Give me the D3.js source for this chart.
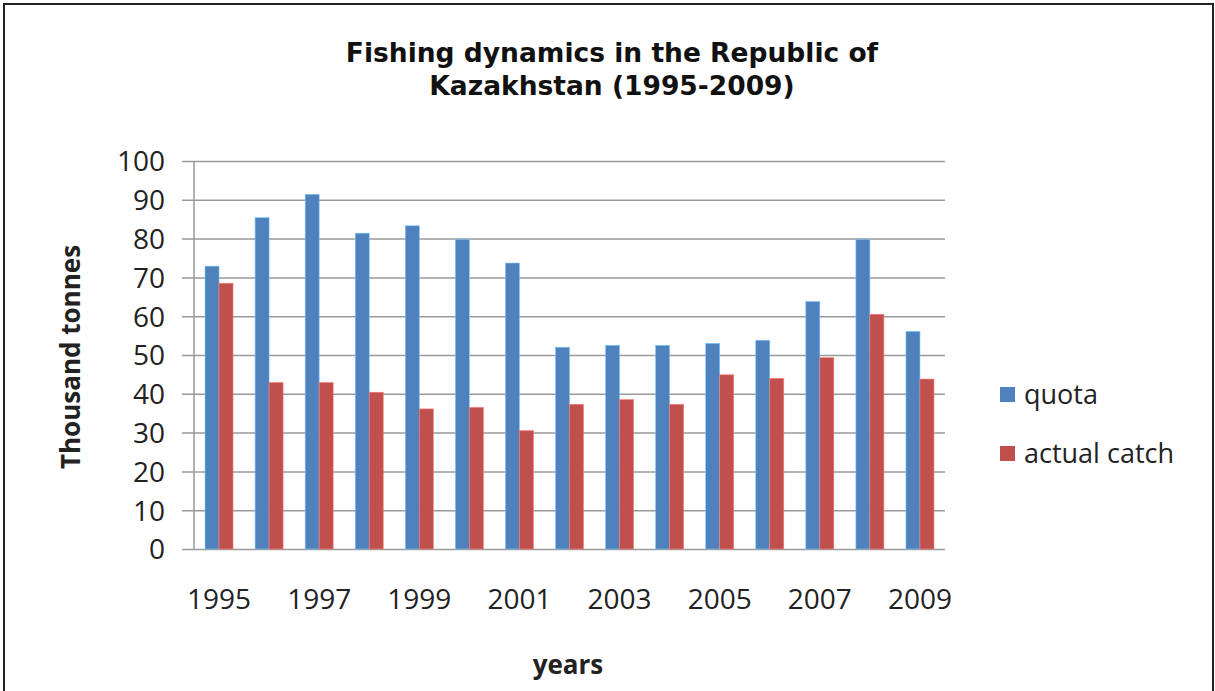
<!DOCTYPE html>
<html>
<head>
<meta charset="utf-8">
<script src="https://cdn.jsdelivr.net/npm/d3@7"></script>
<style>
  body { margin: 0; background: #fff; }
  svg { display: block; }
</style>
</head>
<body>
<div id="chart"></div>
<script>
// data (thousand tonnes)
const years = ['1995', '1996', '1997', '1998', '1999', '2000', '2001', '2002',
  '2003', '2004', '2005', '2006', '2007', '2008', '2009']
const quota = [72.9, 85.4, 91.4, 81.4, 83.3, 79.8, 73.7, 52.0, 52.5, 52.5, 53.0, 53.8, 63.8, 79.8, 56.1]
const actualCatch = [68.5, 42.9, 42.9, 40.4, 36.1, 36.5, 30.5, 37.3, 38.5, 37.3, 44.9, 44.0, 49.3, 60.5, 43.8]
const seriesNames = ['quota', 'actual catch']
const seriesColors = ['#4F81BD', '#C0504D']
const yTicks = [0, 10, 20, 30, 40, 50, 60, 70, 80, 90, 100]

const w = 1215, h = 691
const margin = { left: 194, right: 270, top: 161, bottom: 142 }
const plotW = w - margin.left - margin.right
const plotH = h - margin.top - margin.bottom

const svg = d3.select('#chart').append('svg')
  .attr('width', w)
  .attr('height', h)

// outer frame
svg.append('rect')
  .attr('x', 4).attr('y', 4)
  .attr('width', w - 6).attr('height', h)
  .attr('fill', 'none')
  .attr('stroke', '#222')
  .attr('stroke-width', 2)

// title
svg.append('text')
  .attr('x', 612).attr('y', 0)
  .attr('text-anchor', 'middle')
  .style('font-family', 'DejaVu Sans')
  .style('font-weight', 'bold')
  .style('font-size', '26.5px')
  .attr('fill', '#111')
  .selectAll('tspan')
  .data(['Fishing dynamics in the Republic of', 'Kazakhstan (1995-2009)'])
  .enter().append('tspan')
  .attr('x', 612)
  .attr('y', (d, i) => 62 + i * 33)
  .text(d => d)

const g = svg.append('g')
  .attr('transform', 'translate(' + margin.left + ',' + margin.top + ')')

const x = d3.scaleBand()
  .domain(years)
  .range([0, plotW])

const xInner = d3.scaleBand()
  .domain(seriesNames)
  .range([0, 28])

const y = d3.scaleLinear()
  .domain([0, 100])
  .range([plotH, 0])

// gridlines + y axis
const yAxis = d3.axisLeft(y)
  .tickValues(yTicks)
  .tickSize(-plotW)
  .tickPadding(29)

const yg = g.append('g').call(yAxis)
yg.select('.domain').remove()
yg.selectAll('.tick line')
  .attr('x1', -12)
  .attr('stroke', '#9a9a9a')
  .attr('stroke-width', 1.5)
yg.selectAll('.tick text')
  .style('font-family', 'Open Sans')
  .style('font-size', '28px')
  .attr('fill', '#222')
  .attr('dy', '0.35em')

g.append('line')
  .attr('x1', 0).attr('x2', 0)
  .attr('y1', 0).attr('y2', plotH)
  .attr('stroke', '#9a9a9a')
  .attr('stroke-width', 1.5)

// bars
const rows = years.map((yr, i) => ({ year: yr, values: [quota[i], actualCatch[i]] }))

const groups = g.selectAll('.yr')
  .data(rows)
  .enter().append('g')
  .attr('transform', d => 'translate(' + (x(d.year) + x.bandwidth() / 2 - 14) + ',0)')

groups.selectAll('rect')
  .data(d => d.values.map((v, i) => ({ name: seriesNames[i], value: v, color: seriesColors[i] })))
  .enter().append('rect')
  .attr('x', d => xInner(d.name))
  .attr('y', d => y(d.value))
  .attr('width', xInner.bandwidth())
  .attr('height', d => plotH - y(d.value))
  .attr('fill', d => d.color)
  .attr('stroke', d => d3.color(d.color).brighter(1.2))
  .attr('stroke-width', 0.6)

// x axis labels (every other year)
const xAxis = d3.axisBottom(x)
  .tickValues(years.filter((d, i) => i % 2 === 0))
  .tickSize(0)
  .tickPadding(40)
const xg = g.append('g')
  .attr('transform', 'translate(0,' + plotH + ')')
  .call(xAxis)
xg.select('.domain').remove()
xg.selectAll('.tick text')
  .style('font-family', 'Open Sans')
  .style('font-size', '28px')
  .attr('fill', '#222')

// axis titles
svg.append('text')
  .attr('transform', 'translate(80,357) rotate(-90)')
  .attr('text-anchor', 'middle')
  .style('font-family', 'Open Sans')
  .style('font-weight', 'bold')
  .style('font-size', '26px')
  .attr('fill', '#222')
  .text('Thousand tonnes')

svg.append('text')
  .attr('x', 568).attr('y', 674)
  .attr('text-anchor', 'middle')
  .style('font-family', 'Open Sans')
  .style('font-weight', 'bold')
  .style('font-size', '26px')
  .attr('fill', '#222')
  .text('years')

// legend
const legend = svg.append('g')
  .attr('transform', 'translate(1000,387)')
const li = legend.selectAll('g')
  .data(seriesNames)
  .enter().append('g')
  .attr('transform', (d, i) => 'translate(0,' + i * 59 + ')')
li.append('rect')
  .attr('width', 15).attr('height', 15)
  .attr('fill', (d, i) => seriesColors[i])
li.append('text')
  .attr('x', 24).attr('y', 8)
  .attr('dy', '0.35em')
  .style('font-family', 'Open Sans')
  .style('font-size', '27px')
  .attr('fill', '#222')
  .text(d => d)
</script>
</body>
</html>
